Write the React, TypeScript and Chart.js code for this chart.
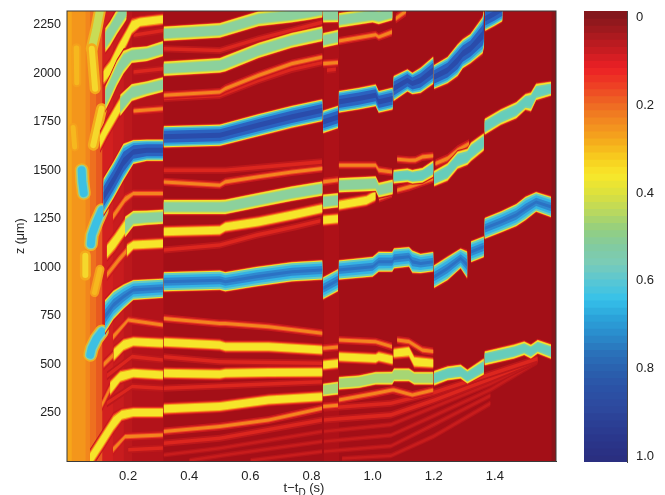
import React, { useEffect, useRef } from "react";
import { Chart, registerables } from "chart.js";

Chart.register(...registerables);

type P = [number, number | null];
const GAP = (t: number): P => [t, null];

const xTicks = [0.2, 0.4, 0.6, 0.8, 1.0, 1.2, 1.4];
const zTicks = [250, 500, 750, 1000, 1250, 1500, 1750, 2000, 2250];
const barTicks = [0, 0.2, 0.4, 0.6, 0.8, 1.0];
const barLabels = ["0", "0.2", "0.4", "0.6", "0.8", "1.0"];

const regionEdges = [0, 0.015, 0.06, 0.075, 0.095, 0.115, 0.15, 0.185, 0.213, 0.315, 0.84, 0.89, 1.585];
const regionColors = ["#f7a61a", "#f4961b", "#f2861d", "#ee701f", "#e85a20", "#d2201f", "#c81c1e", "#bc181c", "#b3131a", "#a40f17", "#ae1118", "#a30f17", "#8c1419"];

const blueUpper: P[] = [[0.119,1363],[0.152,1449],[0.185,1543],[0.217,1594],[0.261,1603],[0.314,1603],GAP(0.315),[0.316,1672],[0.5,1680],[0.627,1732],[0.736,1775],[0.836,1809],GAP(0.837),[0.838,1749],[0.887,1774],GAP(0.888),[0.889,1852],[0.955,1869],[1.01,1886],[1.02,1852],[1.066,1869],GAP(1.067),[1.068,1920],[1.114,1963],[1.13,1946],[1.157,1963],[1.199,2015],GAP(1.2),[1.201,1980],[1.245,2015],[1.278,2066],[1.295,2100],[1.32,2126],[1.36,2195],[1.365,2237],GAP(1.367),[1.368,2280],[1.398,2306],[1.425,2332]];
const blueLower: P[] = [[0.124,746],[0.152,806],[0.185,849],[0.217,883],[0.314,892],GAP(0.315),[0.316,926],[0.5,934],[0.518,926],[0.62,952],[0.736,977],[0.836,986],GAP(0.837),[0.838,892],[0.887,934],GAP(0.888),[0.889,986],[1.0,1003],[1.02,1029],[1.064,1029],[1.07,1046],[1.119,1054],[1.13,1029],[1.157,1020],[1.199,1029],GAP(1.2),[1.201,952],[1.245,994],[1.288,1046],[1.31,1012],GAP(1.316),[1.322,1080],[1.364,1106],GAP(1.365),[1.366,1200],[1.42,1234],[1.47,1269],[1.5,1303],[1.535,1337],[1.584,1311]];
const cyanTailUpper: P[] = [[0.078,1120],[0.081,1166],[0.097,1234],[0.114,1294]];
const cyanTailLower: P[] = [[0.076,550],[0.081,583],[0.097,634],[0.114,669]];
const cyanSpot: P[] = [[0.048,1500],[0.05,1440],[0.055,1382]];

const greenTop: P[] = [[0.125,2169],[0.141,2203],[0.163,2263],[0.185,2315],[0.195,2340],GAP(0.3),[0.316,2203],[0.5,2220],[0.627,2280],[0.736,2298],[0.79,2311],[0.836,2325],GAP(0.837),[0.838,2298],[0.887,2300],GAP(0.888),[0.889,2272],[1.0,2298],[1.02,2290],[1.065,2311]];
const yellowTop: P[] = [[0.119,1980],[0.141,2023],[0.168,2109],[0.196,2186],[0.212,2238],[0.239,2263],[0.314,2277]];
const greenUpperA: P[] = [[0.125,1869],[0.141,1920],[0.163,1997],[0.185,2057],[0.212,2092],[0.261,2100],[0.314,2126]];
const yellowB: P[] = [[0.108,1646],[0.13,1714],[0.152,1774],[0.174,1834]];
const greenSecond: P[] = [[0.174,1834],[0.212,1900],[0.261,1920],[0.314,1941],GAP(0.315),[0.316,2023],[0.5,2040],[0.518,2049],[0.627,2117],[0.736,2169],[0.836,2203],GAP(0.837),[0.838,2169],[0.887,2185]];
const orangeThird: P[] = [[0.217,1805],[0.314,1817],GAP(0.315),[0.316,1886],[0.5,1903],[0.518,1920],[0.627,1989],[0.736,2049],[0.836,2083],GAP(0.837),[0.838,2049],[0.887,2055],GAP(0.888),[0.889,2165],[1.01,2198],[1.02,2186],[1.064,2212],GAP(1.07),[1.075,2280],[1.11,2320]];
const redAbove: P[] = [[0.217,2195],[0.314,2220],GAP(0.315),[0.316,2126],[0.5,2117],[0.627,2177],[0.736,2220],[0.836,2263]];
const redSecond: P[] = [[0.217,2006],[0.314,2023]];
const redThird: P[] = [[0.316,1870],[0.5,1885],[0.627,1963],[0.736,2020],[0.836,2055],GAP(0.84),[0.85,2015],[0.88,2020]];
const orangeMid: P[] = [[0.15,1260],[0.19,1350],[0.217,1380],[0.314,1380],GAP(0.315),[0.316,1440],[0.5,1423],[0.518,1440],[0.627,1466],[0.736,1491],[0.836,1509],GAP(0.837),[0.838,1440],[0.887,1450],GAP(0.888),[0.889,1526],[1.01,1526],[1.02,1500],[1.064,1491],GAP(1.07),[1.08,1557],[1.12,1552],[1.14,1552],[1.163,1569],[1.199,1575],GAP(1.2),[1.205,1534],[1.245,1560],[1.278,1603],[1.316,1637]];
const redMid: P[] = [[0.316,1500],[0.518,1500],[0.835,1543]];
const yellowC: P[] = [[0.13,1080],[0.157,1132],[0.19,1208]];
const greenMid: P[] = [[0.19,1208],[0.217,1251],[0.261,1255],[0.314,1260],GAP(0.315),[0.316,1311],[0.5,1311],[0.518,1311],[0.627,1346],[0.736,1380],[0.836,1406],GAP(0.837),[0.838,1337],[0.887,1345],GAP(0.888),[0.889,1423],[1.01,1431],[1.02,1397],[1.066,1414]];
const tealMid: P[] = [[1.068,1466],[1.114,1474],[1.13,1466],[1.163,1474],[1.199,1509],GAP(1.2),[1.201,1457],[1.245,1491],[1.278,1552],[1.31,1569],[1.322,1595],[1.364,1646],GAP(1.365),[1.366,1723],[1.42,1774],[1.47,1809],[1.5,1852],[1.518,1852],[1.535,1903],[1.584,1920]];
const orangeD: P[] = [[0.13,960],[0.17,1040],[0.195,1085]];
const yellowMid: P[] = [[0.195,1085],[0.217,1115],[0.314,1123],GAP(0.315),[0.316,1183],[0.5,1191],[0.518,1208],[0.627,1234],[0.736,1269],[0.836,1303],GAP(0.837),[0.838,1243],[0.887,1250],GAP(0.888),[0.889,1320],[0.98,1345],[1.01,1371]];
const orangeE: P[] = [[1.02,1355],[1.064,1380],GAP(1.07),[1.08,1397],[1.12,1414],[1.199,1457]];
const redUpperMid: P[] = [[0.316,1089],[0.5,1115],[0.62,1166],[0.75,1210],[0.83,1240]];
const orange700: P[] = [[0.15,640],[0.2,729],[0.314,703],GAP(0.315),[0.316,737],[0.5,711],[0.518,711],[0.66,694],[0.836,660],GAP(0.837),[0.838,583],[0.887,590],GAP(0.888),[0.889,626],[1.01,617],[1.064,591],GAP(1.07),[1.08,626],[1.119,617],[1.163,574],[1.199,566]];
const yellow600: P[] = [[0.152,549],[0.185,600],[0.217,617],[0.314,609],GAP(0.315),[0.316,614],[0.5,600],[0.518,591],[0.66,591],[0.836,574],GAP(0.837),[0.838,497],[0.887,505],GAP(0.888),[0.889,540],[1.01,531],[1.02,540],[1.066,523],GAP(1.067),[1.068,557],[1.119,566],[1.136,514],[1.199,506]];
const orange500: P[] = [[0.119,497],[0.152,549]];
const yellow450: P[] = [[0.141,377],[0.174,437],[0.217,454],[0.314,446],GAP(0.315),[0.316,454],[0.5,449],[0.518,454],[0.66,458],[0.836,459]];
const orange300: P[] = [[0.114,291],[0.141,377]];
const limeLow: P[] = [[0.838,368],[0.887,378],GAP(0.888),[0.889,403],[0.955,411],[1.01,429],[1.064,429],[1.07,446],[1.119,446],[1.136,429],[1.199,429]];
const tealLow: P[] = [[1.201,429],[1.245,454],[1.288,463],[1.31,437],[1.364,489],GAP(1.365),[1.366,531],[1.463,566],[1.496,583],[1.518,566],[1.54,591],[1.584,566]];
const yellow250: P[] = [[0.075,8],[0.114,103],[0.152,197],[0.179,240],[0.217,252],[0.314,252],GAP(0.315),[0.316,271],[0.5,283],[0.66,317],[0.836,334]];
const orange320: P[] = [[0.838,283],[0.887,290],GAP(0.888),[0.889,317],[1.01,351],[1.064,368],[1.07,368],[1.13,343],[1.199,368]];
const red540: P[] = [[0.13,440],[0.213,540],[0.314,523],GAP(0.315),[0.316,540],[0.5,514],[0.835,506]];
const red380: P[] = [[0.13,300],[0.213,386],[0.314,377],GAP(0.315),[0.316,377],[0.835,411]];
const orange150: P[] = [[0.15,60],[0.19,128],[0.314,137],GAP(0.315),[0.316,154],[0.5,180],[0.66,214],[0.835,274]];
const red100: P[] = [[0.2,60],[0.314,70],GAP(0.315),[0.316,94],[0.5,120],[0.835,214]];
const red60: P[] = [[0.316,34],[0.5,68],[0.835,154]];
const red30: P[] = [[0.4,5],[0.518,34],[0.835,103]];
const red15: P[] = [[0.6,5],[0.835,51]];
const fan1: P[] = [[0.84,274],[1.06,300],[1.2,355],[1.386,450],[1.54,530]];
const fan2: P[] = [[0.84,214],[1.06,240],[1.2,315],[1.386,425],[1.54,525]];
const fan3: P[] = [[0.84,154],[1.06,190],[1.2,280],[1.386,400],[1.54,520]];
const fan4: P[] = [[0.84,103],[1.06,135],[1.2,235],[1.386,370],[1.54,515]];
const fan5: P[] = [[0.84,51],[1.06,80],[1.2,190],[1.386,340]];
const fan6: P[] = [[0.9,15],[1.06,30],[1.2,130],[1.386,300]];
const streakGreen: P[] = [[0.108,2325],[0.095,2220],[0.081,2126]];
const streakYellow1: P[] = [[0.081,2126],[0.092,1920]];
const streakYellow2: P[] = [[0.113,1817],[0.086,1629]];
const streakOrange: P[] = [[0.108,990],[0.09,870]];
const stripYellow1: P[] = [[0.03,2130],[0.032,1950]];
const stripYellow2: P[] = [[0.02,1720],[0.025,1620]];
const stripYellow3: P[] = [[0.06,1060],[0.06,960]];

const colorbarStops = ["#84171c","#a51a1f","#c81c21","#ec2025","#ee4124","#ee6823","#f28a20","#f5a81c","#f7cb1e","#f8e82a","#dde13c","#bcd95c","#95cf7e","#82cba0","#7accb8","#58c6d4","#36c1ea","#2ba4da","#2a8ccc","#2a72ba","#2a60ae","#2b52a6","#2d4a9f","#2b3f94","#2a358a","#2a2f80"];
const colorbarSteps = 64;

// Stroke layers, outermost first: [width in px, colour]
type Layers = [number, string][];
const deep: Layers = [[24,"#c4161c"],[22,"#ee6a20"],[21,"#f7e22e"],[19,"#5cc9c2"],[16,"#2f9fdc"],[12,"#2b62c0"],[5,"#2a4cab"]];
const mid: Layers = [[22,"#c4161c"],[20,"#ee6a20"],[19,"#f5e02e"],[17,"#66ccc0"],[13,"#36b4e4"],[8,"#2f88d0"],[3,"#2b72c4"]];
const cyan: Layers = [[14,"#f2b01e"],[11,"#8ed2a0"],[8,"#3cc0e4"]];
const green: Layers = [[17,"#c4161c"],[15,"#ee5a20"],[14,"#f4e22f"],[11,"#b6da62"],[9,"#8cd19c"]];
const teal: Layers = [[16,"#d01a1c"],[14,"#f08a20"],[13,"#f4e22f"],[10,"#7ad0a8"],[7,"#66cdbb"]];
const lime: Layers = [[15,"#d01a1c"],[13,"#f0821f"],[12,"#ecdf36"],[9,"#a6d674"]];
const yellow: Layers = [[13,"#c4161c"],[11,"#ea3a20"],[9,"#f4a01c"],[7,"#f6e52a"]];
const orange: Layers = [[8,"#c8191d"],[5,"#ea4222"],[3,"#f4841f"]];
const red: Layers = [[7,"#bc181b"],[3.5,"#dc261e"]];
const faint: Layers = [[5,"#b5151a"],[2.5,"#c81c1c"]];
const streakG: Layers = [[12,"#f2b01e"],[8,"#c8dc56"]];
const streakY: Layers = [[11,"#f4aa1c"],[6,"#f5d82c"]];
const streakO: Layers = [[9,"#f5a01c"],[5,"#f6b81e"]];

const ridges: [P[], Layers][] = [
  [fan6,faint],[fan5,faint],[fan4,faint],[fan3,faint],[fan2,red],[fan1,red],
  [red15,faint],[red30,faint],[red60,faint],[red100,red],[orange150,orange],
  [red380,red],[red540,red],[redSecond,red],[redAbove,red],[redThird,red],[redMid,red],[redUpperMid,red],
  [stripYellow1,streakO],[stripYellow2,streakO],[stripYellow3,streakY],
  [streakGreen,streakG],[streakYellow1,streakY],[streakYellow2,streakY],[streakOrange,streakO],
  [orangeThird,orange],[orangeMid,orange],[orange700,orange],[orangeD,orange],[orangeE,orange],[orange500,orange],[orange300,orange],[orange320,orange],
  [yellowTop,yellow],[yellowB,yellow],[yellowC,yellow],[yellowMid,yellow],[yellow600,yellow],[yellow450,yellow],[yellow250,yellow],
  [limeLow,lime],[greenTop,green],[greenUpperA,green],[greenSecond,green],[greenMid,green],
  [tealMid,teal],[tealLow,teal],[cyanTailUpper,cyan],[cyanTailLower,cyan],[cyanSpot,cyan],
  [blueLower,mid],[blueUpper,deep],
];

const Z_MAX = 2320;
const PX_PER_T = 305;
const PX_PER_Z = 450.5 / Z_MAX;

// Vertical half-thickness factor of a ribbon, so steep parts keep their visual width.
function slopeFactor(pts: P[], i: number) {
  const a = pts[i - 1] && pts[i - 1][1] !== null ? pts[i - 1] : pts[i];
  const b = pts[i + 1] && pts[i + 1][1] !== null ? pts[i + 1] : pts[i];
  const dx = (b[0] - a[0]) * PX_PER_T;
  const dy = ((b[1] as number) - (a[1] as number)) * PX_PER_Z;
  if (!dx) return 1;
  return Math.min(1.7, Math.sqrt(1 + (dy / dx) ** 2));
}

function mainDatasets() {
  const sets: any[] = [];
  regionColors.forEach((c, i) => {
    sets.push({
      data: [{ x: regionEdges[i], y: Z_MAX }, { x: 1.6, y: Z_MAX }],
      fill: "origin", backgroundColor: c, borderWidth: 0, pointRadius: 0,
    });
  });
  ridges.forEach(([pts, layers]) => {
    const asStroke = layers === streakG || layers === streakY || layers === streakO || layers === cyan;
    layers.forEach(([w, c]) => {
      if (asStroke) {
        sets.push({
          data: pts.map(([x, y]) => ({ x, y })),
          borderColor: c, borderWidth: w, pointRadius: 0, tension: 0, fill: false,
          borderCapStyle: "round", borderJoinStyle: "round", spanGaps: false,
        });
        return;
      }
      const half = w / 2 / PX_PER_Z;
      const edge = (sign: number) =>
        pts.map(([x, y], i) => ({ x, y: y === null ? null : y + sign * half * slopeFactor(pts, i) }));
      // the list is reversed below, so the upper edge ends up directly before the lower one
      sets.push({ data: edge(-1), borderWidth: 0, pointRadius: 0, tension: 0, fill: false, spanGaps: false });
      sets.push({ data: edge(1), borderWidth: 0, pointRadius: 0, tension: 0, fill: "+1", backgroundColor: c, spanGaps: false });
    });
  });
  return sets.reverse();
}

const frame = {
  id: "frame",
  afterDraw(c: any) {
    const { ctx, chartArea: a } = c;
    ctx.save();
    ctx.strokeStyle = "#3a3a3a";
    ctx.lineWidth = 1;
    ctx.strokeRect(a.left, a.top, a.right - a.left, a.bottom - a.top);
    ctx.restore();
  },
};

const FONT = "'Liberation Sans', Arial, sans-serif";

function hexMix(a: string, b: string, f: number) {
  const p = (h: string, i: number) => parseInt(h.slice(i, i + 2), 16);
  const m = (i: number) => Math.round(p(a, i) + (p(b, i) - p(a, i)) * f);
  return `rgb(${m(1)},${m(3)},${m(5)})`;
}

function barDatasets() {
  const lo = -0.014, hi = 1.012;
  const out: any[] = [];
  for (let i = 0; i < colorbarSteps; i++) {
    const f = (i / (colorbarSteps - 1)) * (colorbarStops.length - 1);
    const k = Math.min(Math.floor(f), colorbarStops.length - 2);
    out.push({
      data: [[lo + ((hi - lo) * i) / colorbarSteps, lo + ((hi - lo) * (i + 1.05)) / colorbarSteps]],
      backgroundColor: hexMix(colorbarStops[k], colorbarStops[k + 1], f - k),
      borderWidth: 0, barPercentage: 1, categoryPercentage: 1, grouped: false,
    });
  }
  return out;
}

export default function App() {
  const mainRef = useRef<HTMLCanvasElement>(null);
  const barRef = useRef<HTMLCanvasElement>(null);

  useEffect(() => {
    const main = new Chart(mainRef.current!, {
      type: "line",
      data: { datasets: mainDatasets() },
      options: {
        animation: false, responsive: false, devicePixelRatio: 1,
        layout: { autoPadding: false, padding: { top: 11, right: 14, left: 0, bottom: 0 } },
        plugins: { legend: { display: false }, tooltip: { enabled: false } },
        scales: {
          x: {
            type: "linear", min: 0, max: 1.6,
            afterBuildTicks: (s: any) => { s.ticks = xTicks.map((value) => ({ value })); },
            afterFit: (s: any) => { s.height = 33.5; s.paddingLeft = 0; s.paddingRight = 0; },
            grid: { drawOnChartArea: false, tickLength: 0, color: "#333" },
            border: { color: "#333" },
            ticks: { color: "#222", padding: 7, maxRotation: 0, autoSkip: false, font: { family: FONT, size: 13 }, callback: (v: any) => Number(v).toFixed(1) },
          },
          y: {
            type: "linear", min: 0, max: Z_MAX,
            afterBuildTicks: (s: any) => { s.ticks = zTicks.map((value) => ({ value })); },
            afterFit: (s: any) => { s.width = 67; s.paddingTop = 0; s.paddingBottom = 0; },
            grid: { drawOnChartArea: false, tickLength: 0, color: "#333" },
            border: { color: "#333" },
            title: { display: true, text: "z (μm)", color: "#222", font: { family: FONT, size: 12.5 }, padding: { top: 13, bottom: 0 } },
            ticks: { color: "#222", padding: 6, autoSkip: false, font: { family: FONT, size: 12.5 }, callback: (v: any) => String(v) },
          },
        },
      } as any,
      plugins: [frame],
    });

    const bar = new Chart(barRef.current!, {
      type: "bar",
      data: { labels: [""], datasets: barDatasets() },
      options: {
        animation: false, responsive: false, devicePixelRatio: 1,
        layout: { autoPadding: false, padding: { top: 11, bottom: 33, left: 14, right: 0 } },
        plugins: { legend: { display: false }, tooltip: { enabled: false } },
        scales: {
          x: { display: false },
          y: {
            position: "right", reverse: true, min: -0.014, max: 1.012,
            afterBuildTicks: (s: any) => { s.ticks = barTicks.map((value) => ({ value })); },
            afterFit: (s: any) => { s.width = 38; s.paddingTop = 0; s.paddingBottom = 0; },
            grid: { drawOnChartArea: false, tickLength: 0 },
            border: { color: "#444" },
            ticks: {
              color: "#222", padding: 9, autoSkip: false, font: { family: FONT, size: 13 },
              callback: (v: any) => barLabels[barTicks.indexOf(v)] ?? "",
            },
          },
        },
      } as any,
    });
    return () => { main.destroy(); bar.destroy(); };
  }, []);

  return (
    <div style={{ position: "fixed", left: 0, top: 0, width: 665, height: 495, overflow: "hidden", background: "#fff" }}>
      <canvas ref={mainRef} width={570} height={495} style={{ position: "absolute", left: 0, top: 0, filter: "blur(0.5px)" }} />
      <canvas ref={barRef} width={95} height={495} style={{ position: "absolute", left: 570, top: 0, filter: "blur(0.4px)" }} />
      <div style={{ position: "absolute", left: 262, top: 481, width: 84, textAlign: "center", font: "13px 'Liberation Sans', Arial, sans-serif", color: "#222", lineHeight: "14px" }}>
        t−t<sub style={{ fontSize: 10, lineHeight: 0 }}>D</sub> (s)
      </div>
    </div>
  );
}
